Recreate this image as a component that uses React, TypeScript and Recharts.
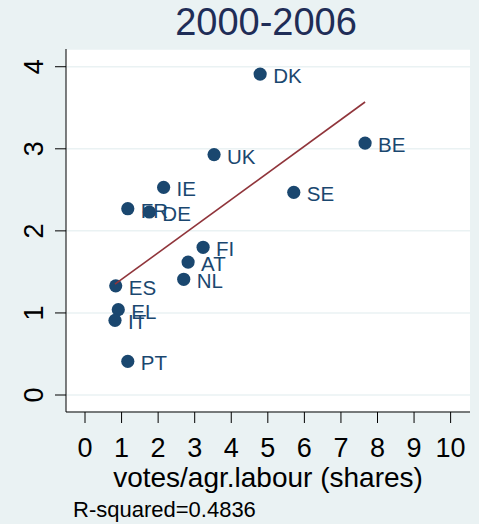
import React from 'react';
import { ScatterChart, Scatter, XAxis, YAxis, CartesianGrid } from 'recharts';

const countries = ['DK', 'UK', 'IE', 'FR', 'DE', 'BE', 'SE', 'FI', 'AT', 'NL', 'ES', 'EL', 'IT', 'PT'];
const xValues = [4.79, 3.53, 2.15, 1.17, 1.76, 7.66, 5.71, 3.23, 2.82, 2.70, 0.84, 0.91, 0.82, 1.17];
const yValues = [3.91, 2.93, 2.53, 2.27, 2.23, 3.07, 2.47, 1.80, 1.62, 1.41, 1.33, 1.04, 0.91, 0.41];
const fitX = [0.82, 7.66];
const fitY = [1.35, 3.57];
const xTicks = [0, 1, 2, 3, 4, 5, 6, 7, 8, 9, 10];
const yTicks = [0, 1, 2, 3, 4];

const data = countries.map((name, i) => ({ name, x: xValues[i], y: yValues[i] }));
const fitData = fitX.map((x, i) => ({ x, y: fitY[i] }));

const FONT = '"Liberation Sans", Arial, Helvetica, sans-serif';
const NAVY = '#1a476f';
const BG = '#eaf2f3';

const PointShape = (props: any) => {
  const { cx, cy, payload } = props;
  return (
    <g>
      <circle cx={cx} cy={cy} r={6.6} fill={NAVY} />
      <text x={cx + 13} y={cy + 1.5} dominantBaseline="central" fontSize={20.5} fill={NAVY} fontFamily={FONT}>
        {payload.name}
      </text>
    </g>
  );
};

const XTick = (props: any) => {
  const { x, y, payload } = props;
  return (
    <text x={x} y={y + 32} textAnchor="middle" fontSize={27} fill="#000" fontFamily={FONT}>
      {payload.value}
    </text>
  );
};

const YTick = (props: any) => {
  const { x, y, payload } = props;
  const bx = x - 10;
  return (
    <text x={bx} y={y} textAnchor="middle" fontSize={27} fill="#000" fontFamily={FONT} transform={`rotate(-90, ${bx}, ${y})`}>
      {payload.value}
    </text>
  );
};

const XLabel = (props: any) => {
  const vb = props.viewBox || { x: 66, y: 412, width: 404, height: 112 };
  return (
    <text x={vb.x + vb.width / 2} y={vb.y + 75} textAnchor="middle" fontSize={28} fill="#000" fontFamily={FONT}>
      votes/agr.labour (shares)
    </text>
  );
};

export default function App() {
  return (
    <div style={{ position: 'absolute', left: 0, top: 0, width: 479, height: 524, background: BG, fontFamily: FONT }}>
      <div
        style={{
          position: 'absolute', left: 64, top: 3, width: 404, textAlign: 'center',
          fontSize: 38, lineHeight: '38px', color: '#1f2d57', fontFamily: FONT,
        }}
      >
        2000-2006
      </div>
      <ScatterChart width={479} height={524} margin={{ top: 49, right: 9, left: 0, bottom: 0 }}>
        <CartesianGrid vertical={false} stroke={BG} strokeWidth={1.5} fill="#ffffff" fillOpacity={1} />
        <XAxis
          type="number"
          dataKey="x"
          domain={[-0.52, 10.53]}
          ticks={xTicks}
          interval={0}
          allowDataOverflow
          height={112}
          tickSize={11}
          stroke="#000"
          tickLine={{ stroke: '#000' }}
          axisLine={{ stroke: '#000' }}
          tick={<XTick />}
          label={<XLabel />}
        />
        <YAxis
          type="number"
          dataKey="y"
          domain={[-0.207, 4.216]}
          ticks={yTicks}
          interval={0}
          allowDataOverflow
          width={66}
          tickSize={11}
          stroke="#000"
          tickLine={{ stroke: '#000' }}
          axisLine={{ stroke: '#000' }}
          tick={<YTick />}
        />
        <Scatter data={data} shape={PointShape} isAnimationActive={false} />
        <Scatter
          data={fitData}
          line={{ stroke: '#90353b', strokeWidth: 1.6 }}
          shape={() => <g />}
          isAnimationActive={false}
        />
      </ScatterChart>
      <div
        style={{
          position: 'absolute', left: 73, top: 499, fontSize: 22, lineHeight: '22px',
          color: '#000', fontFamily: FONT, whiteSpace: 'nowrap',
        }}
      >
        R-squared=0.4836
      </div>
    </div>
  );
}
